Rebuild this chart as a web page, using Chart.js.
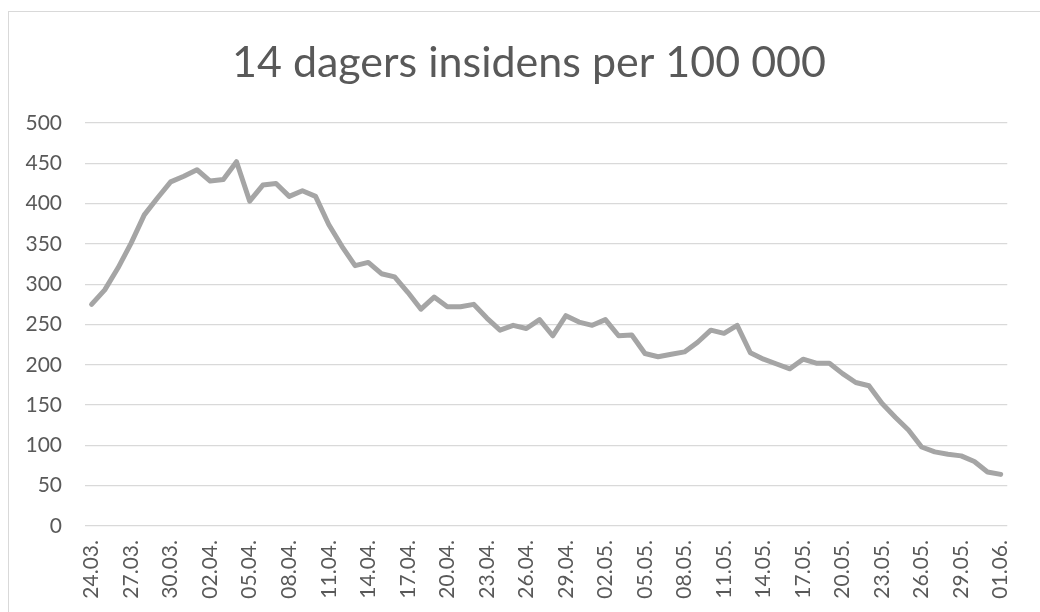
<!DOCTYPE html>
<html>
<head>
<meta charset="utf-8">
<script src="https://cdn.jsdelivr.net/npm/chart.js@4/dist/chart.umd.min.js"></script>
<style>
  html, body { margin: 0; padding: 0; background: #fff; }
  #wrap { position: relative; width: 1040px; height: 612px; overflow: hidden; }
  #frame { position: absolute; left: 8px; top: 11px; width: 1100px; height: 700px; border: 1.5px solid #d9d9d9; box-sizing: border-box; }
  canvas { position: absolute; left: 0; top: 0; }
</style>
</head>
<body>
<div id="wrap">
  <div id="frame"></div>
  <canvas id="c" width="1040" height="612"></canvas>
</div>
<script>
const chartTitle = "14 dagers insidens per 100 000";

const dates = [
  "24.03.","25.03.","26.03.","27.03.","28.03.","29.03.","30.03.","31.03.",
  "01.04.","02.04.","03.04.","04.04.","05.04.","06.04.","07.04.","08.04.","09.04.","10.04.",
  "11.04.","12.04.","13.04.","14.04.","15.04.","16.04.","17.04.","18.04.","19.04.","20.04.",
  "21.04.","22.04.","23.04.","24.04.","25.04.","26.04.","27.04.","28.04.","29.04.","30.04.",
  "01.05.","02.05.","03.05.","04.05.","05.05.","06.05.","07.05.","08.05.","09.05.","10.05.",
  "11.05.","12.05.","13.05.","14.05.","15.05.","16.05.","17.05.","18.05.","19.05.","20.05.",
  "21.05.","22.05.","23.05.","24.05.","25.05.","26.05.","27.05.","28.05.","29.05.","30.05.",
  "31.05.","01.06."
];

const incidence = [
  275, 293, 320, 351, 386, 407, 427, 434, 442, 428,
  430, 452, 403, 423, 425, 409, 416, 409, 374, 347,
  323, 327, 313, 309, 290, 269, 284, 272, 272, 275,
  258, 243, 249, 245, 256, 236, 261, 253, 249, 256,
  236, 237, 214, 210, 213, 216, 228, 243, 239, 249,
  215, 207, 201, 195, 207, 202, 202, 189, 178, 174,
  152, 135, 119, 98, 92, 89, 87, 80, 67, 64
];

const yTicks = [0, 50, 100, 150, 200, 250, 300, 350, 400, 450, 500];

const textColor = "#595959";
const fontFamily = "Lato, 'Noto Sans', sans-serif";

const titlePlugin = {
  id: "excelTitle",
  afterDraw(chart) {
    const ctx = chart.ctx;
    ctx.save();
    ctx.fillStyle = textColor;
    ctx.font = "400 43px " + fontFamily;
    ctx.textAlign = "center";
    ctx.textBaseline = "middle";
    ctx.fillText(chartTitle, 529, 63);
    ctx.restore();
  }
};

new Chart(document.getElementById("c"), {
  type: "line",
  data: {
    labels: dates,
    datasets: [{
      label: chartTitle,
      data: incidence,
      borderColor: "#a5a5a5",
      borderWidth: 5,
      pointRadius: 0,
      pointHoverRadius: 0,
      tension: 0,
      borderJoinStyle: "round",
      borderCapStyle: "round",
      fill: false
    }]
  },
  plugins: [titlePlugin],
  options: {
    responsive: false,
    animation: false,
    devicePixelRatio: 1,
    layout: { padding: { left: 0, right: 17, top: 123, bottom: 0 } },
    plugins: {
      legend: { display: false },
      tooltip: { enabled: false },
      title: { display: false }
    },
    scales: {
      x: {
        offset: true,
        grid: { display: false, drawTicks: false },
        border: { display: false },
        ticks: {
          autoSkip: false,
          maxRotation: 90,
          minRotation: 90,
          padding: 14,
          color: textColor,
          font: { family: fontFamily, size: 21 },
          callback: function (v, i) { return i % 3 === 0 ? dates[i] : ""; }
        },
        afterFit: function (s) { s.height = 86; }
      },
      y: {
        min: yTicks[0],
        max: yTicks[yTicks.length - 1],
        afterBuildTicks: function (s) { s.ticks = yTicks.map(v => ({ value: v })); },
        grid: { color: "#d9d9d9", lineWidth: 1.3, drawTicks: false },
        border: { display: false },
        ticks: {
          padding: 23,
          color: textColor,
          font: { family: fontFamily, size: 21 }
        },
        afterFit: function (s) { s.width = 85; }
      }
    }
  }
});
</script>
</body>
</html>
